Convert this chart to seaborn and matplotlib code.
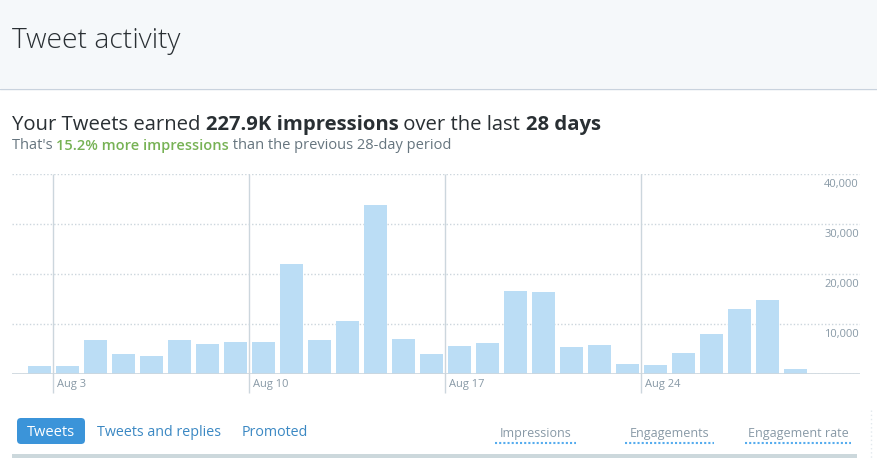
import matplotlib

matplotlib.use("Agg")

import matplotlib.pyplot as plt
import pandas as pd
import seaborn as sns
from matplotlib.patches import FancyBboxPatch, Rectangle

# Daily impressions, Aug 2 .. Aug 29
DAYS = list(range(2, 30))
IMPRESSIONS = [
    1700, 1700, 6900, 4100, 3700, 6900, 6100, 6500, 6500, 22100,
    6900, 10700, 33900, 7100, 4100, 5700, 6300, 16700, 16500, 5500,
    5900, 2100, 1900, 4300, 8100, 13100, 14900, 1100,
]
Y_TICKS = [10000, 20000, 30000, 40000]
WEEK_DAYS = [3, 10, 17, 24]
WEEK_LABELS = ["Aug 3", "Aug 10", "Aug 17", "Aug 24"]
TABS = ["Tweets", "Tweets and replies", "Promoted"]
METRICS = ["Impressions", "Engagements", "Engagement rate"]

W, H = 878, 458
BAR_COLOR = "#bbddf5"
GRID_COLOR = "#ccd6dd"
TEXT_DARK = "#292f33"
TEXT_GREY = "#8899a6"

sns.set_theme(style="white")
plt.rcParams["font.family"] = ["Open Sans", "DejaVu Sans"]

fig = plt.figure(figsize=(W / 100, H / 100), dpi=100)

# background layer in pixel coordinates
bg = fig.add_axes([0, 0, 1, 1])
bg.set_xlim(0, W)
bg.set_ylim(H, 0)
bg.set_axis_off()

bg.add_patch(Rectangle((0, 0), W, 88, color="#f5f8fa", lw=0))
bg.plot([0, W], [88.5, 88.5], color="#c9d3de", lw=1)
bg.text(12, 41, "Tweet activity", fontsize=20.3, fontweight="light", color=TEXT_DARK, va="center")

# headline with bold parts
parts = [
    ("Your Tweets earned ", "normal"),
    ("227.9K impressions", "bold"),
    (" over the last ", "normal"),
    ("28 days", "bold"),
]
prev = bg.text(12, 130, parts[0][0], fontsize=14.6, color=TEXT_DARK, va="baseline")
for text, weight in parts[1:]:
    prev = bg.annotate(text, xy=(1, 0), xycoords=prev, va="bottom", ha="left",
                       fontsize=14.6, fontweight=weight, color=TEXT_DARK)

sub = [("That's ", "#66757f", "normal"), ("15.2% more impressions", "#77b255", "semibold"),
       (" than the previous 28-day period", "#66757f", "normal")]
prev = bg.text(12, 149, sub[0][0], fontsize=10.5, color=sub[0][1], va="baseline")
for text, color, weight in sub[1:]:
    prev = bg.annotate(text, xy=(1, 0), xycoords=prev, va="bottom", ha="left",
                       fontsize=10.5, color=color, fontweight=weight)

# tabs
bg.add_patch(FancyBboxPatch((17, 418), 68, 26, boxstyle="round,pad=0,rounding_size=4",
                            color="#3b94d9", lw=0))
bg.text(51, 432, TABS[0], fontsize=10.5, color="white", ha="center", va="center")
bg.text(97, 432, TABS[1], fontsize=10.3, color="#3b88c3", ha="left", va="center")
bg.text(242, 432, TABS[2], fontsize=10.3, color="#3b88c3", ha="left", va="center")

metric_spans = [(495, 576), (625, 714), (745, 851)]
for label, (x0, x1) in zip(METRICS, metric_spans):
    bg.text((x0 + x1) / 2, 433, label, fontsize=9, color=TEXT_GREY, ha="center", va="center")
    bg.plot([x0, x1], [443, 443], color="#55acee", lw=1.5, linestyle=(0, (1, 1)))

bg.add_patch(Rectangle((12, 454), 845, 4, color="#ccd8dc", lw=0))
bg.plot([871, 871], [410, 458], color="#e1e8ed", lw=1, linestyle=(0, (1, 2)))

# chart
ax = fig.add_axes([12 / W, 1 - 374 / H, 848 / W, 200 / H])
ax.patch.set_alpha(0)
df = pd.DataFrame({"day": DAYS, "impressions": IMPRESSIONS})
sns.barplot(data=df, x="day", y="impressions", native_scale=True, width=0.82,
            color=BAR_COLOR, saturation=1, linewidth=0, ax=ax, zorder=2)

ax.set_xlim(2 - 27.5 / 28, 2 + 820.5 / 28)
ax.set_ylim(0, 40000)
ax.set_yticks([0] + Y_TICKS)
ax.set_xticks([])
ax.tick_params(length=0, labelleft=False, labelbottom=False)
ax.grid(axis="y", color=GRID_COLOR, lw=1, linestyle=(0, (1, 1.5)))
ax.grid(axis="x", visible=False)
for spine in ax.spines.values():
    spine.set_visible(False)
ax.axhline(0, color=GRID_COLOR, lw=1.2, zorder=3)
ax.set_xlabel("")
ax.set_ylabel("")

week_x = [d - 0.5 for d in WEEK_DAYS]
ax.vlines(week_x, -3800, 40000, color=GRID_COLOR, lw=1, clip_on=False, zorder=1)
for x, label in zip(week_x, WEEK_LABELS):
    ax.annotate(label, xy=(x, 0), xytext=(4, -10), textcoords="offset pixels",
                fontsize=8, color=TEXT_GREY, ha="left", va="center", annotation_clip=False)

for v in Y_TICKS:
    ax.annotate(f"{v:,}", xy=(1, v), xycoords=("axes fraction", "data"),
                xytext=(-1, -10), textcoords="offset pixels",
                fontsize=8, color=TEXT_GREY, ha="right", va="center")

fig.savefig("out.png", dpi=100)
